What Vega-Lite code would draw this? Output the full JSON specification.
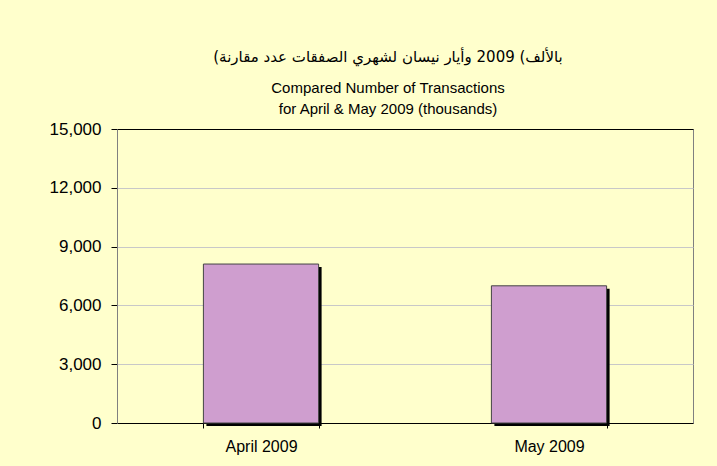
{
  "$schema": "https://vega.github.io/schema/vega-lite/v6.json",
  "autosize": "none",
  "width": 576,
  "height": 294,
  "padding": {"left": 117, "top": 129, "right": 24, "bottom": 43},
  "background": "#FFFFCC",
  "title": {
    "text": "\u200e(مقارنة\u200e عدد\u200e الصفقات\u200e  لشهري\u200e  نيسان\u200e وأيار\u200e 2009\u200e (بالألف\u200e",
    "subtitle": ["Compared Number of Transactions", "for April & May 2009 (thousands)"],
    "font": "DejaVu Sans",
    "fontSize": 15,
    "fontWeight": "normal",
    "color": "#000000",
    "subtitleFont": "Liberation Sans",
    "subtitleFontSize": 15,
    "subtitleColor": "#000000",
    "subtitleLineHeight": 21,
    "subtitlePadding": 16,
    "anchor": "middle",
    "frame": "group",
    "dx": -17,
    "offset": 3
  },
  "data": {
    "values": [
      {"month": "April 2009", "transactions": 8110},
      {"month": "May 2009", "transactions": 7000}
    ]
  },
  "encoding": {
    "x": {
      "field": "month",
      "type": "nominal",
      "sort": null,
      "scale": {"paddingInner": 0.6, "paddingOuter": 0.3},
      "axis": {
        "title": null,
        "labelAngle": 0,
        "labelFont": "Liberation Sans",
        "labelFontSize": 16,
        "labelColor": "#000000",
        "labelPadding": 10,
        "domainColor": "#000000",
        "tickColor": "#000000",
        "tickSize": 5,
        "tickBand": "extent"
      }
    },
    "y": {
      "field": "transactions",
      "type": "quantitative",
      "scale": {"domain": [0, 15000], "nice": false},
      "axis": {
        "title": null,
        "values": [0, 3000, 6000, 9000, 12000, 15000],
        "format": ",d",
        "labelFont": "Liberation Sans",
        "labelFontSize": 17,
        "labelColor": "#000000",
        "labelPadding": 10,
        "domainColor": "#808080",
        "tickColor": "#000000",
        "tickSize": 6,
        "gridColor": {"condition": {"test": "datum.value === 15000", "value": "#000000"}, "value": "#C8C8C8"}
      }
    }
  },
  "layer": [
    {
      "mark": {"type": "bar", "color": "#000000", "xOffset": 3, "yOffset": 3}
    },
    {
      "mark": {"type": "bar", "color": "#CF9ECF", "stroke": "#444444", "strokeWidth": 1}
    }
  ],
  "config": {
    "view": {"stroke": "#808080", "fill": "#FFFFCC"}
  }
}
